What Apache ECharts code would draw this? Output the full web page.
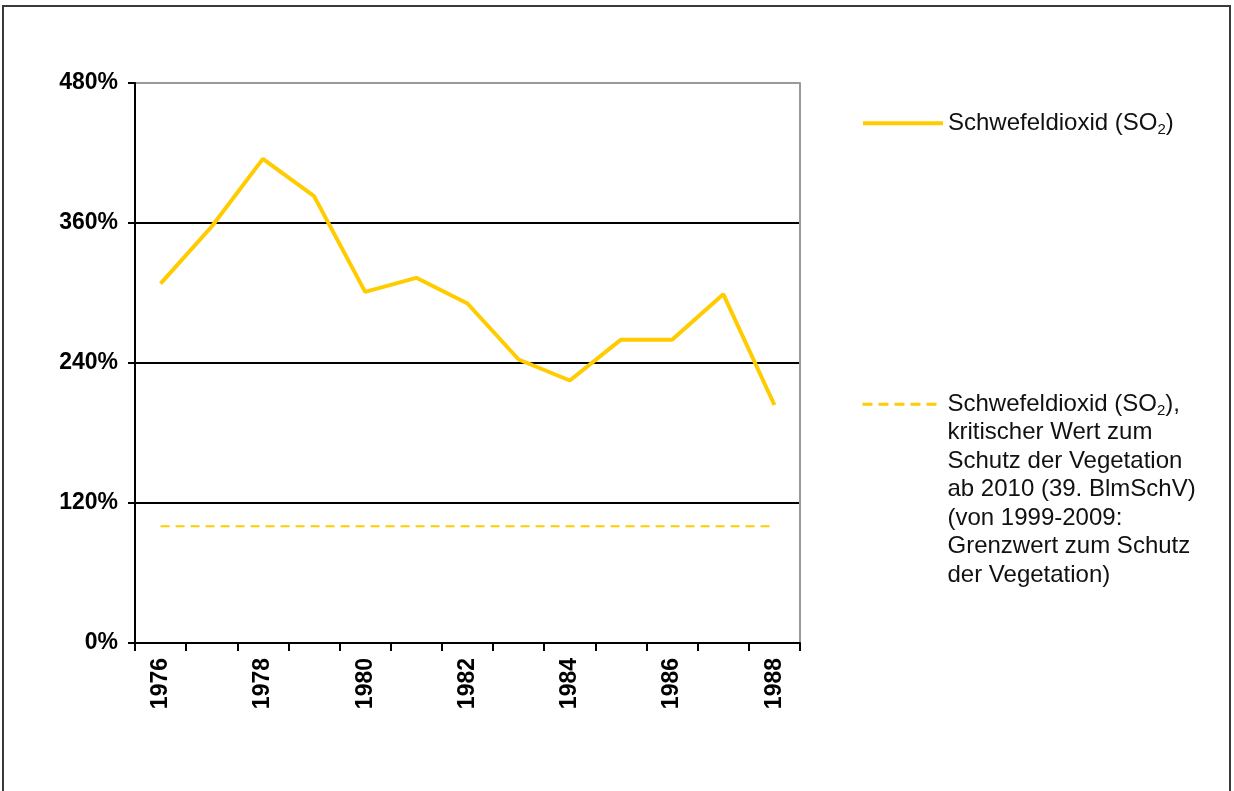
<!DOCTYPE html>
<html>
<head>
<meta charset="utf-8">
<script src="https://cdn.jsdelivr.net/npm/echarts@6/dist/echarts.min.js"></script>
<style>
html,body{margin:0;padding:0;background:#fff;}
#chart{width:1234px;height:791px;}
</style>
</head>
<body>
<div id="chart"></div>
<script>
const years = ['1976','1977','1978','1979','1980','1981','1982','1983','1984','1985','1986','1987','1988'];
const so2Values = [308, 357, 415, 383, 301, 313, 291, 243, 225, 260, 260, 299, 204];
const criticalValues = [100, 100, 100, 100, 100, 100, 100, 100, 100, 100, 100, 100, 100];
const yTicks = [0, 120, 240, 360, 480];
const seriesNames = ['Schwefeldioxid (SO2)', 'Schwefeldioxid (SO2), kritischer Wert'];
const legendTexts = [
  'Schwefeldioxid (SO{s|2})',
  'Schwefeldioxid (SO{s|2}),\nkritischer Wert zum\nSchutz der Vegetation\nab 2010 (39. BlmSchV)\n(von 1999-2009:\nGrenzwert zum Schutz\nder Vegetation)'
];

const chart = echarts.init(document.getElementById('chart'), null, {renderer: 'canvas'});
const FONT = '"Liberation Sans", Arial, sans-serif';
const yellow = '#FFCC00';
const lh = 28.5;
const richSub = {s: {fontSize: 15, fontFamily: FONT, color: '#111', verticalAlign: 'bottom', lineHeight: lh}};

const option = {
  backgroundColor: '#fff',
  animation: false,
  graphic: [{
    type: 'rect',
    shape: {x: 3, y: 6, width: 1227, height: 820},
    style: {fill: 'none', stroke: '#3a3a3a', lineWidth: 2},
    silent: true
  }],
  grid: {left: 135, top: 83, right: 434, bottom: 148},
  legend: [
    {
      data: [seriesNames[0]],
      left: 861, top: 109, padding: 0,
      itemWidth: 80, itemHeight: 14, itemGap: 0,
      itemStyle: {opacity: 0},
      lineStyle: {color: yellow, width: 4, type: 'solid'},
      formatter: () => legendTexts[0],
      textStyle: {fontFamily: FONT, fontSize: 24, color: '#111', lineHeight: lh, rich: richSub}
    },
    {
      data: [seriesNames[1]],
      left: 861, top: 219, padding: 0,
      itemWidth: 80, itemHeight: 14, itemGap: 0,
      itemStyle: {opacity: 0},
      lineStyle: {color: yellow, width: 3, type: [10, 6]},
      formatter: () => legendTexts[1],
      textStyle: {fontFamily: FONT, fontSize: 24, color: '#111', lineHeight: lh, padding: [171, 0, 0, 0], rich: richSub}
    }
  ],
  xAxis: {
    type: 'category',
    data: years,
    boundaryGap: true,
    axisLine: {show: true, lineStyle: {color: '#000', width: 2}},
    axisTick: {show: true, interval: 0, length: 8, inside: false, lineStyle: {color: '#000', width: 2}},
    axisLabel: {interval: 1, rotate: 90, margin: 15, fontFamily: FONT, fontWeight: 'bold', fontSize: 23, color: '#000'},
    splitLine: {show: false}
  },
  yAxis: [
    {
      type: 'value',
      min: yTicks[0], max: yTicks[yTicks.length - 1], interval: 120,
      axisLine: {show: true, lineStyle: {color: '#000', width: 2}},
      axisTick: {show: true, length: 7, inside: false, lineStyle: {color: '#000', width: 2}},
      axisLabel: {formatter: '{value}%', margin: 17, fontFamily: FONT, fontWeight: 'bold', fontSize: 23, color: '#000'},
      splitLine: {show: true, lineStyle: {color: ['#000', '#000', '#000', '#000', '#999'], width: 2}}
    },
    {
      type: 'value', position: 'right',
      min: yTicks[0], max: yTicks[yTicks.length - 1], interval: 120,
      axisLine: {show: true, lineStyle: {color: '#999', width: 2}},
      axisTick: {show: false}, axisLabel: {show: false}, splitLine: {show: false}
    }
  ],
  series: [
    {
      name: seriesNames[0], type: 'line', data: so2Values,
      symbol: 'none', lineStyle: {color: yellow, width: 4}, itemStyle: {color: yellow}
    },
    {
      name: seriesNames[1], type: 'line', data: criticalValues,
      symbol: 'none', lineStyle: {color: yellow, width: 2, type: [9, 6]}, itemStyle: {color: yellow}
    }
  ]
};
chart.setOption(option);
</script>
</body>
</html>
